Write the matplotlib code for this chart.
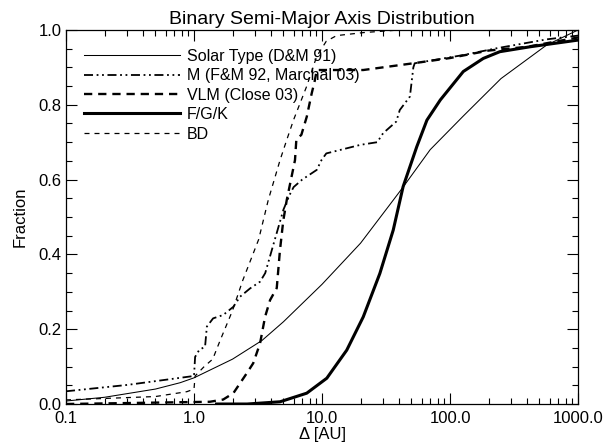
import matplotlib
matplotlib.use("Agg")
import matplotlib.pyplot as plt
from matplotlib.ticker import FixedLocator, LogLocator, MultipleLocator, NullFormatter

plt.rcParams["font.family"] = ["Liberation Sans", "DejaVu Sans"]

# Cumulative separation distributions
solar_a = [0.1, 0.2, 0.5, 0.78, 1.0, 2.0, 3.4, 5.0, 10.0, 20.0, 36.0, 43.0, 70.0, 127.0, 250.0, 570.0, 1000.0]
solar_f = [0.008, 0.018, 0.04, 0.057, 0.07, 0.12, 0.17, 0.22, 0.32, 0.43, 0.545, 0.58, 0.68, 0.77, 0.87, 0.96, 1.0]

m_a = [0.1, 0.3, 1.0, 1.02, 1.1, 1.22, 1.26, 1.41, 1.69, 2.03, 2.29, 2.74, 3.28, 3.6, 4.2, 5.0, 5.6, 6.0,
       7.0, 9.1, 9.9, 10.8, 20.0, 27.0, 30.0, 38.0, 40.5, 48.6, 51.7, 53.0, 127.0, 230.0, 570.0, 1000.0]
m_f = [0.034, 0.051, 0.075, 0.126, 0.145, 0.153, 0.207, 0.229, 0.238, 0.26, 0.287, 0.309, 0.327, 0.35, 0.43, 0.52,
       0.56, 0.58, 0.6, 0.626, 0.652, 0.67, 0.693, 0.70, 0.724, 0.755, 0.786, 0.822, 0.90, 0.911, 0.933, 0.951,
       0.975, 0.985]

vlm_a = [0.1, 1.33, 1.69, 2.03, 2.58, 2.9, 3.28, 3.59, 3.93, 4.43, 4.69, 4.98, 5.3, 6.15, 6.3, 6.9, 7.6, 8.3,
         8.8, 9.1, 21.0, 51.7, 100.0, 200.0, 400.0, 1000.0]
vlm_f = [0.0, 0.006, 0.012, 0.029, 0.082, 0.109, 0.162, 0.233, 0.278, 0.31, 0.41, 0.49, 0.545, 0.652, 0.706,
         0.72, 0.768, 0.83, 0.866, 0.893, 0.893, 0.911, 0.925, 0.945, 0.955, 0.98]

fgk_a = [1.5, 2.6, 4.7, 7.6, 10.9, 15.6, 21.0, 28.3, 36.0, 43.0, 55.0, 66.0, 84.0, 127.0, 182.0, 245.0, 420.0, 1000.0]
fgk_f = [0.0, 0.0, 0.006, 0.029, 0.069, 0.144, 0.233, 0.349, 0.465, 0.581, 0.688, 0.759, 0.813, 0.889, 0.924,
         0.942, 0.955, 0.973]

bd_a = [0.1, 0.5, 0.88, 1.0, 1.02, 1.2, 1.4, 1.6, 2.0, 2.4, 3.2, 3.8, 4.7, 5.3, 6.0, 7.6, 9.1, 10.8, 13.0,
        21.0, 40.0, 1000.0]
bd_f = [0.011, 0.02, 0.033, 0.04, 0.075, 0.1, 0.12, 0.17, 0.25, 0.33, 0.44, 0.545, 0.652, 0.706, 0.76, 0.85,
        0.93, 0.97, 0.985, 0.993, 1.0, 1.0]

x_ticks = [0.1, 1.0, 10.0, 100.0, 1000.0]
x_ticklabels = ["0.1", "1.0", "10.0", "100.0", "1000.0"]
y_ticks = [0.0, 0.2, 0.4, 0.6, 0.8, 1.0]
y_ticklabels = ["0.0", "0.2", "0.4", "0.6", "0.8", "1.0"]

fig = plt.figure(figsize=(6.14, 4.45), dpi=100)
ax = fig.add_axes([0.1075, 0.0921, 0.8339, 0.8405])

ax.plot(solar_a, solar_f, color="black", lw=0.75, label="Solar Type (D&M 91)")
ax.plot(m_a, m_f, color="black", lw=1.3, linestyle=(0, (5, 2, 1, 2, 1, 2)), label="M (F&M 92, Marchal 03)")
ax.plot(vlm_a, vlm_f, color="black", lw=1.7, linestyle=(0, (3.5, 2.5)), label="VLM (Close 03)")
ax.plot(fgk_a, fgk_f, color="black", lw=2.2, label="F/G/K")
ax.plot(bd_a, bd_f, color="black", lw=0.9, linestyle=(0, (4, 4)), label="BD")

ax.set_xscale("log")
ax.set_xlim(0.1, 1000.0)
ax.set_ylim(0.0, 1.0)
ax.xaxis.set_major_locator(FixedLocator(x_ticks))
ax.set_xticklabels(x_ticklabels)
ax.xaxis.set_minor_locator(LogLocator(base=10, subs=range(2, 10)))
ax.xaxis.set_minor_formatter(NullFormatter())
ax.set_yticks(y_ticks)
ax.set_yticklabels(y_ticklabels)
ax.yaxis.set_minor_locator(MultipleLocator(0.05))
ax.tick_params(which="both", direction="in", top=True, right=True, labelsize=12, width=0.8)
ax.tick_params(which="major", length=8)
ax.tick_params(which="minor", length=4)
ax.tick_params(axis="y", pad=3)
ax.tick_params(axis="x", pad=5)
for s in ax.spines.values():
    s.set_linewidth(0.9)

ax.set_title("Binary Semi-Major Axis Distribution", fontsize=14, pad=4)
ax.set_xlabel("\u0394 [AU]", fontsize=12, labelpad=1)
ax.set_ylabel("Fraction", fontsize=12, labelpad=8)

ax.legend(loc="upper left", bbox_to_anchor=(0.014, 0.98), frameon=False, fontsize=11.5,
          handlelength=6.0, handletextpad=0.4, labelspacing=0.28, borderaxespad=0.3)

fig.savefig("out.png", dpi=100)
